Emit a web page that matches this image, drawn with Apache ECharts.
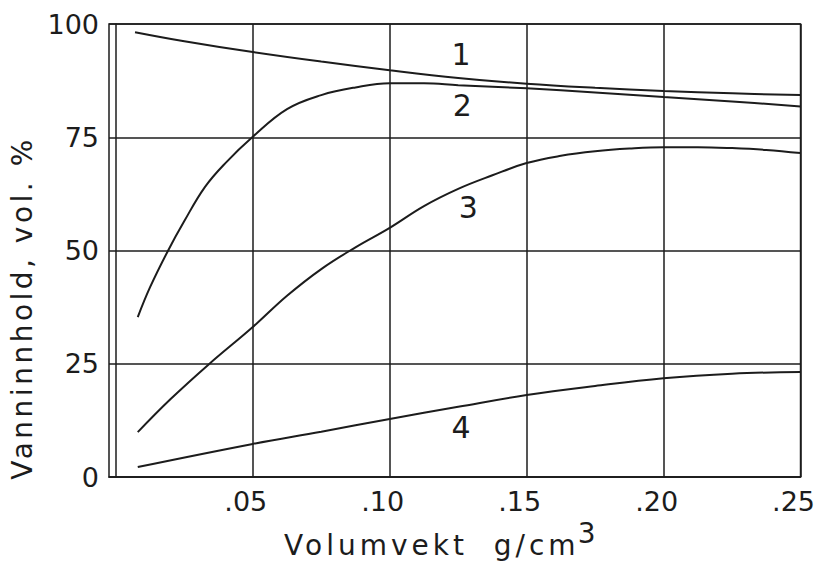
<!DOCTYPE html>
<html>
<head>
<meta charset="utf-8">
<script src="https://cdn.jsdelivr.net/npm/echarts@6/dist/echarts.min.js"></script>
<style>
  html, body { margin: 0; background: #fff; }
  #chart { width: 818px; height: 575px; }
</style>
</head>
<body>
<div id="chart"></div>
<script>
// values (x = volumvekt g/cm3, y = vol. %)
const curve1 = [[0.007, 98.2], [0.025, 96.2], [0.05, 93.8], [0.075, 91.7], [0.10, 89.8],
  [0.125, 88.1], [0.15, 86.8], [0.175, 85.9], [0.20, 85.2], [0.225, 84.7], [0.25, 84.3]];
const curve2 = [[0.008, 35.3], [0.0125, 41.9], [0.019, 49.9], [0.025, 56.5], [0.0325, 64.0],
  [0.04, 69.3], [0.05, 75.1], [0.0625, 81.2], [0.075, 84.3], [0.0875, 86.0], [0.10, 86.9],
  [0.1125, 86.9], [0.125, 86.5], [0.15, 85.8], [0.175, 84.9], [0.20, 83.9], [0.225, 82.9],
  [0.25, 81.8]];
const curve3 = [[0.008, 9.9], [0.02, 17.2], [0.034, 24.9], [0.05, 33.1], [0.0625, 40.0],
  [0.075, 45.9], [0.0875, 50.7], [0.10, 55.0], [0.1125, 59.8], [0.125, 63.6], [0.1375, 66.6],
  [0.15, 69.3], [0.1625, 70.9], [0.175, 71.9], [0.1875, 72.5], [0.20, 72.8], [0.2125, 72.8],
  [0.225, 72.6], [0.2375, 72.2], [0.25, 71.5]];
const curve4 = [[0.008, 2.2], [0.05, 7.3], [0.075, 10.0], [0.10, 12.8], [0.125, 15.5],
  [0.15, 18.1], [0.175, 20.1], [0.20, 21.8], [0.225, 22.8], [0.25, 23.2]];

const curveNames = ['1', '2', '3', '4'];
const labelPos = [[0.126, 93.2], [0.1265, 81.9], [0.1287, 59.6], [0.126, 11.0]];

const xTicks = [0.05, 0.10, 0.15, 0.20, 0.25];
const xTickLabels = ['.05', '.10', '.15', '.20', '.25'];
const yTicks = [0, 25, 50, 75, 100];

const yName = 'Vanninnhold, vol. %';
const xName = 'Volumvekt  g/cm';
const xNameSup = '3';

const ink = '#1c1c1c';
const font = 'DejaVu Sans';

const chart = echarts.init(document.getElementById('chart'), null, { renderer: 'svg' });

const series = [curve1, curve2, curve3, curve4].map((d, i) => ({
  type: 'line',
  name: curveNames[i],
  data: d,
  smooth: 0.4,
  symbol: 'none',
  silent: true,
  lineStyle: { color: ink, width: 2 },
  markPoint: {
    symbol: 'circle',
    symbolSize: 0,
    silent: true,
    label: {
      show: true,
      position: 'inside',
      formatter: curveNames[i],
      fontFamily: font,
      fontSize: 30,
      color: ink
    },
    data: [{ coord: labelPos[i] }]
  }
}));

chart.setOption({
  animation: false,
  backgroundColor: '#fff',
  grid: {
    left: 109, right: 16, top: 24, bottom: 98,
    show: true, borderColor: ink, borderWidth: 1.5
  },
  xAxis: {
    type: 'value',
    min: -0.0025,
    max: 0.25,
    name: '{a|' + xName + '}{s|' + xNameSup + '}',
    nameLocation: 'middle',
    nameGap: 52,
    nameTextStyle: {
      rich: {
        a: { fontFamily: font, fontSize: 28, color: ink, verticalAlign: 'bottom', lineHeight: 30 },
        s: { fontFamily: font, fontSize: 28, color: ink, verticalAlign: 'bottom', lineHeight: 30,
             padding: [0, 0, 12, 28] }
      }
    },
    axisLine: { show: true, lineStyle: { color: ink, width: 1.5 } },
    axisTick: { show: false, customValues: xTicks },
    axisLabel: {
      customValues: xTicks,
      formatter: v => {
        const k = xTicks.findIndex(t => Math.abs(t - v) < 1e-6);
        return k < 0 ? '' : xTickLabels[k];
      },
      fontFamily: font, fontSize: 27, color: ink, margin: 11,
      padding: [0, 14, 0, 0]
    },
    splitLine: { show: true, lineStyle: { color: ink, width: 1.5 } }
  },
  yAxis: {
    type: 'value',
    min: yTicks[0],
    max: yTicks[yTicks.length - 1],
    interval: 25,
    name: yName,
    nameLocation: 'middle',
    nameGap: 72,
    nameTextStyle: {
      fontFamily: font, fontSize: 28, color: ink, lineHeight: 28,
      padding: [0, 115, 0, 0]
    },
    axisLine: { show: true, lineStyle: { color: ink, width: 1.5 } },
    axisTick: { show: false },
    axisLabel: { fontFamily: font, fontSize: 27, color: ink, margin: 10 },
    splitLine: { show: true, lineStyle: { color: ink, width: 1.5 } }
  },
  series: series
});

// the original lettering is spaced out a bit on the axis titles
const norm = s => s.replace(/\s+/g, ' ').trim();
function spaceTitles() {
  document.querySelectorAll('#chart text').forEach(t => {
    const s = norm(t.textContent);
    if (s === norm(yName)) t.setAttribute('letter-spacing', '3.5');
    if (s === norm(xName)) t.setAttribute('letter-spacing', '4');
  });
}
spaceTitles();
chart.on('finished', spaceTitles);
</script>
</body>
</html>
